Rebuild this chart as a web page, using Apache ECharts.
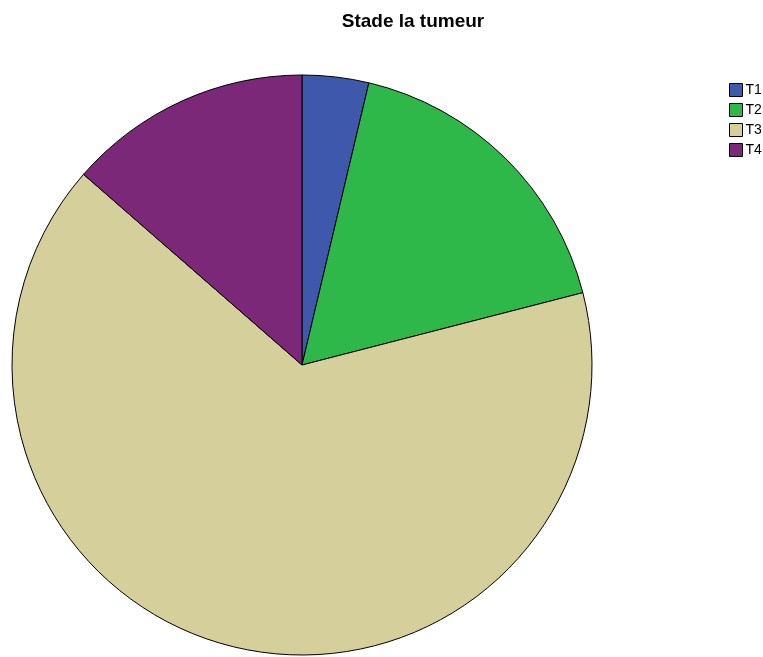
<!DOCTYPE html>
<html><head><meta charset="utf-8">
<script src="https://cdn.jsdelivr.net/npm/echarts@6/dist/echarts.min.js"></script>
<style>html,body{margin:0;padding:0;background:#fff}#c{width:763px;height:657px}</style>
</head><body><div id="c"></div>
<script>
const categories = ['T1','T2','T3','T4'];
const values = [3, 14, 53, 11];
const colors = ['#3e58ac','#2fb84a','#d4cf9b','#7b2878'];
const chart = echarts.init(document.getElementById('c'));
chart.setOption({
  animation:false,
  title:{text:'Stade la tumeur',left:408,top:7,textAlign:'center',textStyle:{fontFamily:'Liberation Sans, Arial',fontSize:19,fontWeight:'bold',color:'#000'}},
  legend:{orient:'vertical',left:724,top:78,itemWidth:13,itemHeight:13,itemGap:6,icon:'rect',
    textStyle:{fontFamily:'Liberation Sans, Arial',fontSize:14,color:'#000',padding:[0,0,0,-2]},
    itemStyle:{borderColor:'#000',borderWidth:1},data:categories},
  series:[{type:'pie',center:[302,365],radius:[0,290],startAngle:90,clockwise:true,
    label:{show:false},labelLine:{show:false},
    itemStyle:{borderColor:'#000',borderWidth:1},
    emphasis:{disabled:true},
    data:categories.map((n,i)=>({name:n,value:values[i],itemStyle:{color:colors[i]}}))}]
});
</script></body></html>
